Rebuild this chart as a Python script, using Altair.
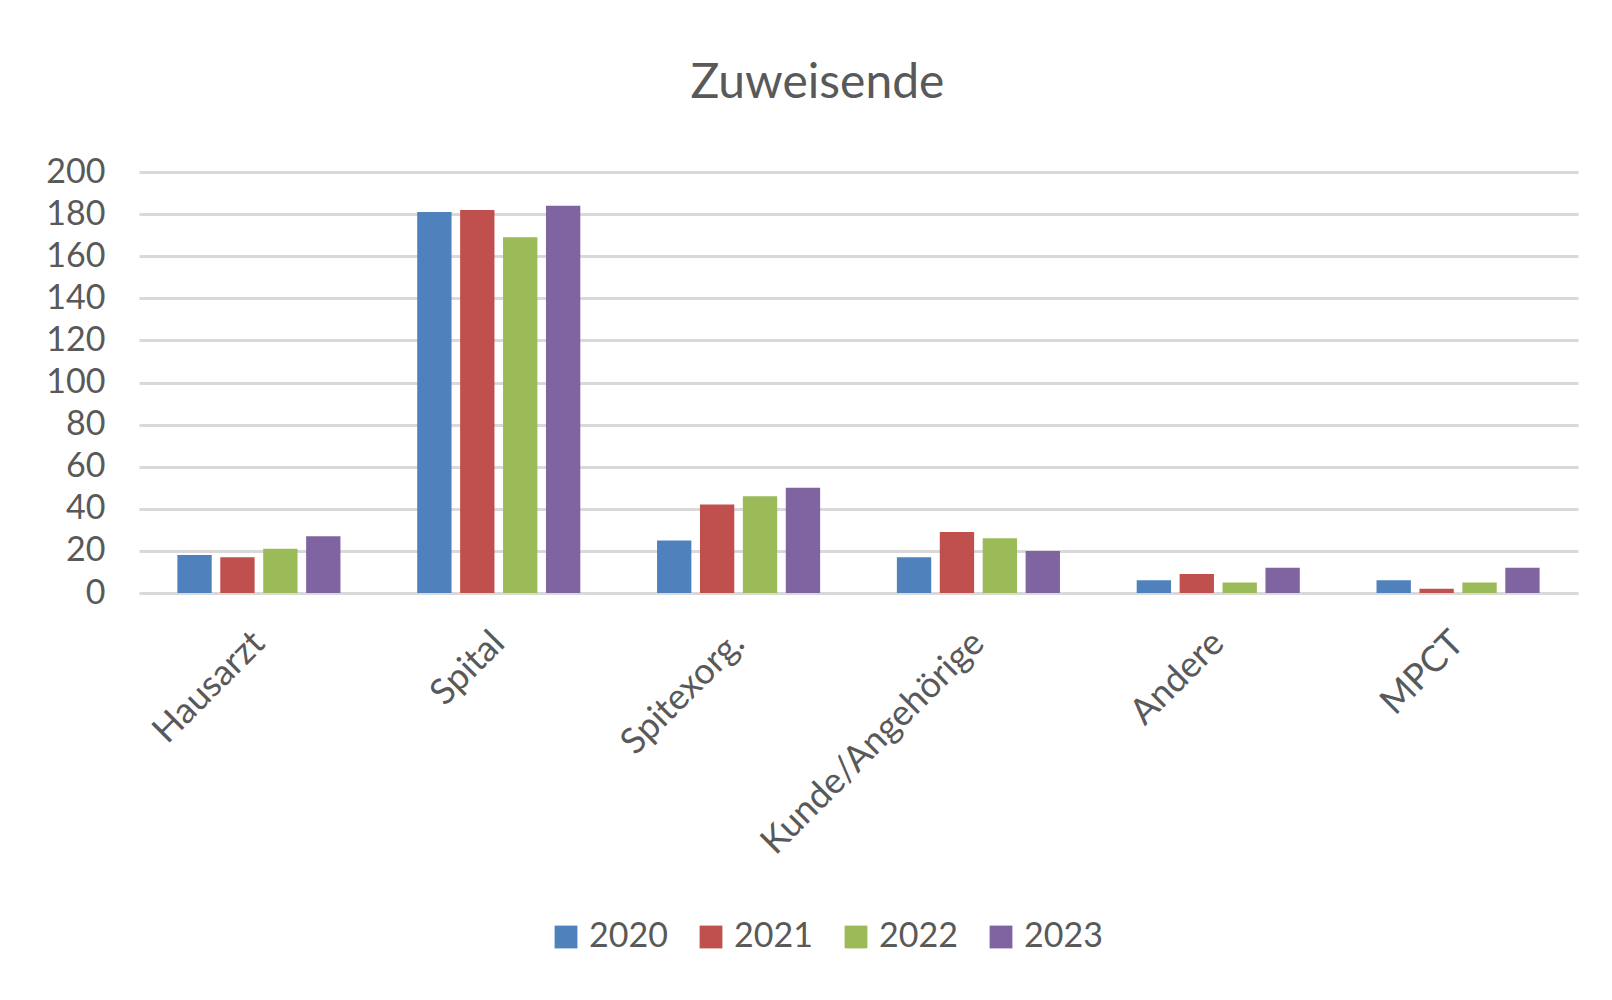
import altair as alt
import pandas as pd

categories = ["Hausarzt", "Spital", "Spitexorg.", "Kunde/Angehörige", "Andere", "MPCT"]
years = ["2020", "2021", "2022", "2023"]
v2020 = [18, 181, 25, 17, 6, 6]
v2021 = [17, 182, 42, 29, 9, 2]
v2022 = [21, 169, 46, 26, 5, 5]
v2023 = [27, 184, 50, 20, 12, 12]
colors = ["#4f81bd", "#c0504d", "#9bbb59", "#8064a2"]

rows = []
for y, vals in zip(years, [v2020, v2021, v2022, v2023]):
    for c, v in zip(categories, vals):
        rows.append({"Kategorie": c, "Jahr": y, "Wert": v})
df = pd.DataFrame(rows)

FONT = "Lato"
TXT = "#595959"

chart = (
    alt.Chart(df)
    .mark_bar()
    .encode(
        x=alt.X(
            "Kategorie:N",
            sort=categories,
            scale=alt.Scale(paddingInner=0.32, paddingOuter=0.16),
            axis=alt.Axis(
                title=None,
                labelAngle=-45,
                labelAlign="right",
                labelBaseline="middle",
                labelFontSize=36,
                labelFont=FONT,
                labelColor=TXT,
                labelPadding=44,
                labelLimit=0,
                ticks=False,
                domain=False,
                grid=False,
            ),
        ),
        xOffset=alt.XOffset("Jahr:N", sort=years, scale=alt.Scale(paddingInner=0.2)),
        y=alt.Y(
            "Wert:Q",
            scale=alt.Scale(domain=[0, 200], nice=False),
            axis=alt.Axis(
                title=None,
                values=list(range(0, 201, 20)),
                labelFontSize=34,
                labelFont=FONT,
                labelColor=TXT,
                labelPadding=34,
                ticks=False,
                domain=False,
                gridColor="#d9d9d9",
                gridWidth=3,
            ),
        ),
        color=alt.Color(
            "Jahr:N",
            sort=years,
            scale=alt.Scale(domain=years, range=colors),
            legend=alt.Legend(
                title=None,
                orient="none",
                direction="horizontal",
                legendX=410,
                legendY=748,
                symbolType="square",
                symbolSize=520,
                symbolStrokeWidth=0,
                labelFontSize=34,
                labelFont=FONT,
                labelColor=TXT,
                labelOffset=6,
                columnPadding=26,
            ),
        ),
    )
    .properties(
        width=1439,
        height=421,
        title=alt.TitleParams(
            "Zuweisende",
            fontSize=48,
            font=FONT,
            fontWeight="normal",
            color=TXT,
            anchor="middle",
            dx=-41,
            offset=47,
        ),
        autosize=alt.AutoSizeParams(type="none"),
        padding={"left": 131, "top": 164, "right": 26, "bottom": 390},
    )
    .configure_view(stroke=None)
)

chart.save("out.html", embed_options={"renderer": "svg", "actions": False})
